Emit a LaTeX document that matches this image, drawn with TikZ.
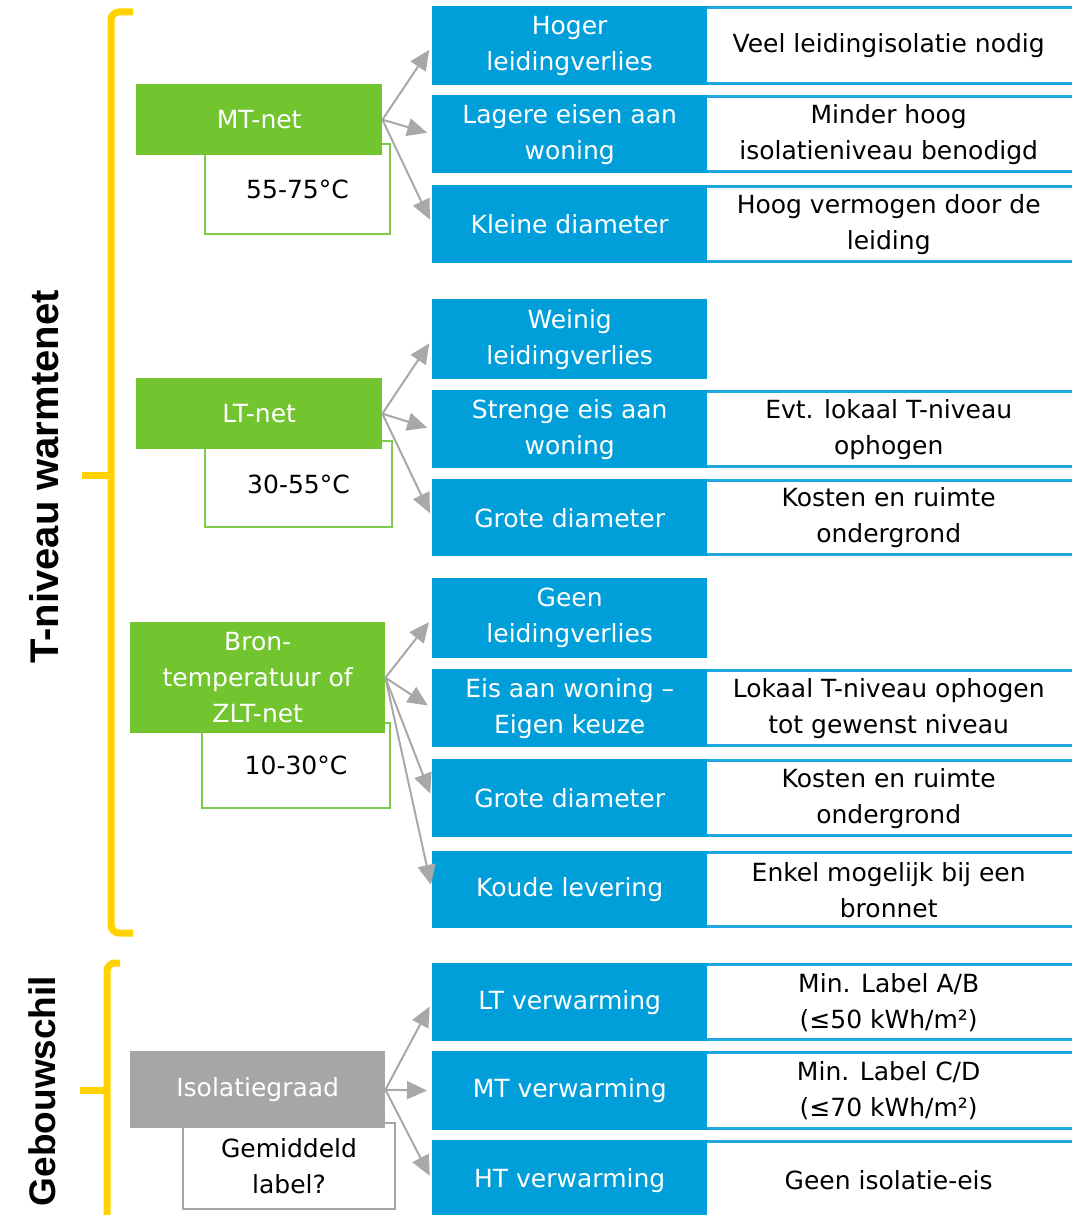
\documentclass[tikz,border=0pt]{standalone}
\usepackage{fontspec}
\setmainfont{DejaVu Sans}
\newfontfamily\labfont{Liberation Sans}
\usetikzlibrary{arrows.meta}
\definecolor{cblue}{HTML}{009FDA}
\definecolor{cblueline}{HTML}{1EA7E0}
\definecolor{cgreen}{HTML}{72C52F}
\definecolor{cgreenline}{HTML}{7ECB4A}
\definecolor{cgray}{HTML}{A6A6A6}
\definecolor{carrow}{HTML}{A8A8A8}
\definecolor{cyellow}{HTML}{FFD200}
\newcommand\mkbox[7]{\node[#2, anchor=north west, inner sep=0pt, minimum width={(#5-#3)*1pt}, minimum height={(#6-#4)*1pt}, align=center] (#1) at (#3,#4) {#7};}
\tikzset{
  bodyfont/.style={font=\fontsize{25}{36}\selectfont},
  bluebox/.style={fill=cblue, text=white, bodyfont},
  whitebox/.style={fill=white, text=black, bodyfont},
  greenbox/.style={fill=cgreen, text=white, bodyfont},
  graybox/.style={fill=cgray, text=white, bodyfont},
  tempbox/.style={fill=white, draw=cgreenline, line width=2pt, text=black, bodyfont},
  tempgray/.style={fill=white, draw=cgray, line width=2pt, text=black, bodyfont},
  wline/.style={draw=cblueline, line width=3pt},
  arr/.style={draw=carrow, line width=2pt, -{Triangle[length=20pt,width=18pt]}, shorten >=5pt},
  brace/.style={draw=cyellow, line width=7pt, rounded corners=8pt},
  sidelabel/.style={rotate=90, text=black, font=\labfont\bfseries\fontsize{40}{44}\selectfont}
}
\begin{document}
\begin{tikzpicture}[x=1pt,y=-1pt]
\useasboundingbox (0,0) rectangle (1071,1215);
% white description boxes
\mkbox{w1}{whitebox}{706}{6}{1071}{85}{Veel leidingisolatie nodig}
\mkbox{w2}{whitebox}{706}{95}{1071}{173}{Minder hoog\\isolatieniveau benodigd}
\mkbox{w3}{whitebox}{706}{185}{1071}{263}{Hoog vermogen door de\\leiding}
\mkbox{w5}{whitebox}{706}{390}{1071}{468}{Evt. lokaal T-niveau\\ophogen}
\mkbox{w6}{whitebox}{706}{479}{1071}{556}{Kosten en ruimte\\ondergrond}
\mkbox{w8}{whitebox}{706}{669}{1071}{747}{Lokaal T-niveau ophogen\\tot gewenst niveau}
\mkbox{w9}{whitebox}{706}{759}{1071}{837}{Kosten en ruimte\\ondergrond}
\mkbox{w10}{whitebox}{706}{851}{1071}{928}{Enkel mogelijk bij een\\bronnet}
\mkbox{w11}{whitebox}{706}{963}{1071}{1041}{Min. Label A/B\\(≤50 kWh/m²)}
\mkbox{w12}{whitebox}{706}{1051}{1071}{1130}{Min. Label C/D\\(≤70 kWh/m²)}
\mkbox{w13}{whitebox}{706}{1140}{1071}{1220}{Geen isolatie-eis}
\foreach \n in {w1,w2,w3,w5,w6,w8,w9,w10,w11,w12,w13}{
  \draw[wline] ([yshift=-1.5pt]\n.north west) -- ++(380,0);
  \draw[wline] ([yshift=1.5pt]\n.south west) -- ++(380,0);
}
% blue boxes
\mkbox{b1}{bluebox}{432}{6}{707}{85}{Hoger\\leidingverlies}
\mkbox{b2}{bluebox}{432}{95}{707}{173}{Lagere eisen aan\\woning}
\mkbox{b3}{bluebox}{432}{185}{707}{263}{Kleine diameter}
\mkbox{b4}{bluebox}{432}{299}{707}{379}{Weinig\\leidingverlies}
\mkbox{b5}{bluebox}{432}{390}{707}{468}{Strenge eis aan\\woning}
\mkbox{b6}{bluebox}{432}{479}{707}{556}{Grote diameter}
\mkbox{b7}{bluebox}{432}{578}{707}{658}{Geen\\leidingverlies}
\mkbox{b8}{bluebox}{432}{669}{707}{747}{Eis aan woning –\\Eigen keuze}
\mkbox{b9}{bluebox}{432}{759}{707}{837}{Grote diameter}
\mkbox{b10}{bluebox}{432}{851}{707}{928}{Koude levering}
\mkbox{b11}{bluebox}{432}{963}{707}{1041}{LT verwarming}
\mkbox{b12}{bluebox}{432}{1051}{707}{1130}{MT verwarming}
\mkbox{b13}{bluebox}{432}{1140}{707}{1220}{HT verwarming}
% temperature boxes
\mkbox{t1}{tempbox}{204}{143}{389}{233}{55-75°C}
\mkbox{t2}{tempbox}{204}{440}{391}{526}{30-55°C}
\mkbox{t3}{tempbox}{201}{722}{389}{807}{10-30°C}
\mkbox{t4}{tempgray}{182}{1122}{394}{1208}{Gemiddeld\\label?}
% category boxes
\mkbox{g1}{greenbox}{136}{84}{382}{155}{MT-net}
\mkbox{g2}{greenbox}{136}{378}{382}{449}{LT-net}
\mkbox{g3}{greenbox}{130}{622}{385}{733}{Bron-\\temperatuur of\\ZLT-net}
\mkbox{g4}{graybox}{130}{1051}{385}{1128}{Isolatiegraad}
% arrows
\foreach \b in {b1,b2,b3}{\draw[arr] (g1.east) -- (\b.west);}
\foreach \b in {b4,b5,b6}{\draw[arr] (g2.east) -- (\b.west);}
\foreach \b in {b7,b8,b9,b10}{\draw[arr] (g3.east) -- (\b.west);}
\foreach \b in {b11,b12,b13}{\draw[arr] (g4.east) -- (\b.west);}
% braces
\coordinate (br1top) at (133,12);
\coordinate (br1bot) at (133,933);
\coordinate (br1mid) at (82,475);
\draw[brace] (br1top) -- (111,12) -- (111,933) -- (br1bot);
\draw[brace] (br1mid) -- (111,475);
\coordinate (br2top) at (120,963);
\coordinate (br2mid) at (80,1090);
\draw[brace] (br2top) -- (107,963) -- (107,1235);
\draw[brace] (br2mid) -- (107,1090);
% side labels
\node[sidelabel] (lab1) at (44,477) {T-niveau warmtenet};
\node[sidelabel, font=\labfont\bfseries\fontsize{37}{40}\selectfont] (lab2) at (42,1091) {Gebouwschil};
\end{tikzpicture}
\end{document}
